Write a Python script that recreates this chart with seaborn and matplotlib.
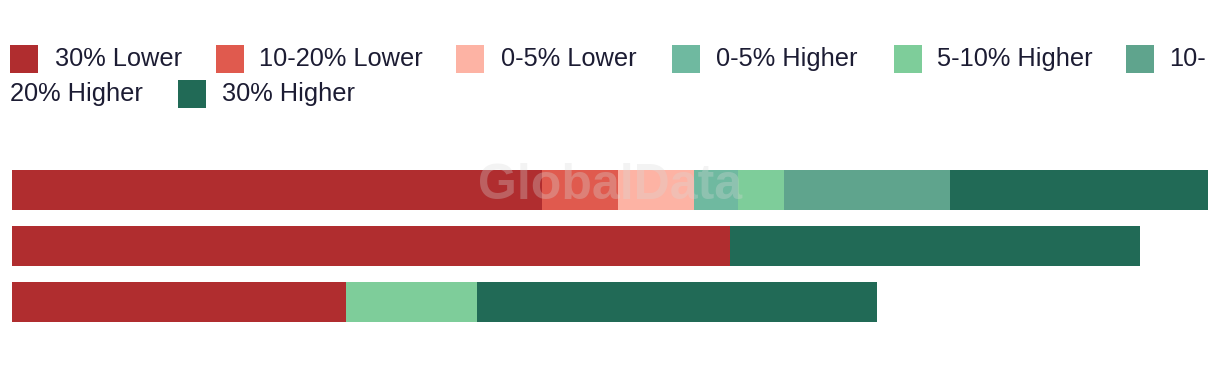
import numpy as np
import pandas as pd
import matplotlib
matplotlib.use("Agg")
import matplotlib.pyplot as plt
from matplotlib.patches import Rectangle
import seaborn as sns

# ---- data ----
groups = ["Group 1", "Group 2", "Group 3"]
series_names = ["30% Lower", "10-20% Lower", "0-5% Lower", "0-5% Higher",
                "5-10% Higher", "10-20% Higher", "30% Higher"]
lower30 = [44.3, 60.0, 27.9]
lower10_20 = [6.35, 0.0, 0.0]
lower0_5 = [6.35, 0.0, 0.0]
higher0_5 = [3.7, 0.0, 0.0]
higher5_10 = [3.85, 0.0, 11.0]
higher10_20 = [13.9, 0.0, 0.0]
higher30 = [21.55, 34.3, 33.4]
colors = ["#B02D2F", "#E05A4E", "#FDB3A4", "#6FB9A0", "#7ECD9A", "#5FA48D", "#216A56"]

series = [lower30, lower10_20, lower0_5, higher0_5, higher5_10, higher10_20, higher30]

sns.set_theme(style="white")
plt.rcParams["font.family"] = ["Liberation Sans", "DejaVu Sans"]

fig = plt.figure(figsize=(12.2, 3.66), dpi=100)
W, H = 1220, 366
ax = fig.add_axes([12 / W, 1 - 330 / H, 1196 / W, 168 / H])

cum = np.cumsum(np.array(series), axis=0)
for i in range(len(series) - 1, -1, -1):
    df = pd.DataFrame({"group": groups, "value": cum[i]})
    sns.barplot(data=df, x="value", y="group", orient="h", color=colors[i],
                width=40 / 56, saturation=1, ax=ax, linewidth=0)

ax.set_xlim(0, 100)
ax.set_ylim(2.5, -0.5)
ax.set_xlabel("")
ax.set_ylabel("")
ax.set_xticks([])
ax.set_yticks([])
for s in ax.spines.values():
    s.set_visible(False)

# watermark
fig.text(610 / W, 1 - 186 / H, "GlobalData", ha="center", va="center",
         fontsize=36, fontweight="bold", color="#d8d8d8", alpha=0.3)

# ---- manual wrapped legend ----
txt_color = "#1c1c33"
fs = 18.3
row1_y, row2_y = 59, 94
sq = 28
items = [
    (10, 55, row1_y, series_names[0], colors[0]),
    (216, 259, row1_y, series_names[1], colors[1]),
    (456, 501, row1_y, series_names[2], colors[2]),
    (672, 716, row1_y, series_names[3], colors[3]),
    (894, 937, row1_y, series_names[4], colors[4]),
    (1126, 1169, row1_y, "10-", colors[5]),
    (178, 222, row2_y, series_names[6], colors[6]),
]
for sx, tx, cy, label, c in items:
    fig.patches.append(Rectangle((sx / W, 1 - (cy + sq / 2) / H), sq / W, sq / H,
                                 transform=fig.transFigure, color=c, lw=0))
    fig.text(tx / W, 1 - cy / H, label, ha="left", va="center",
             fontsize=fs, color=txt_color)
fig.text(10 / W, 1 - row2_y / H, "20% Higher", ha="left", va="center",
         fontsize=fs, color=txt_color)

fig.savefig("out.png", dpi=100)
